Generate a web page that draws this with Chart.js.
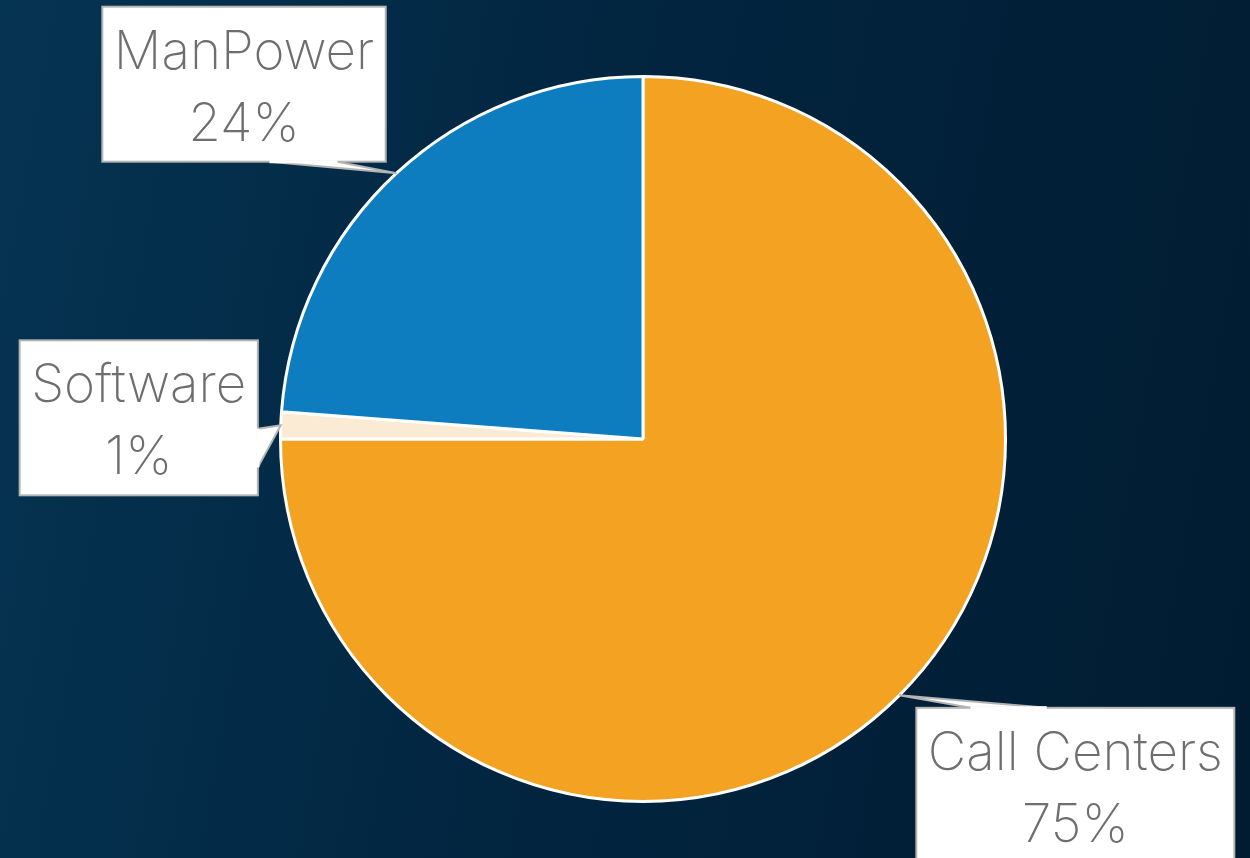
<!DOCTYPE html>
<html>
<head>
<meta charset="utf-8">
<script src="https://cdn.jsdelivr.net/npm/chart.js@4/dist/chart.umd.min.js"></script>
<style>
  html, body { margin: 0; padding: 0; }
  body {
    width: 1250px; height: 858px; overflow: hidden;
    background: linear-gradient(100deg, #053452 0%, #022540 45%, #011c31 100%);
  }
  #wrap { position: relative; width: 1250px; height: 858px; }
</style>
</head>
<body>
<div id="wrap"><canvas id="chart"></canvas></div>
<script>
// Spend breakdown by channel
const categories = ['Call Centers', 'Software', 'ManPower'];
const shares = [75, 1.2, 23.8];
const sliceColors = ['#F4A221', '#FCEBD4', '#0E7DC0'];

// Callout boxes: centre offset from the slice's outer mid-point, and the side
// of the box that the pointer leaves from (with its span along that side).
const calloutLayout = [
  { dx: 176, dy: 90, side: 'top', from: 0.17, to: 0.41 },
  { dx: -142, dy: -7.5, side: 'right', from: 0.57, to: 0.82 },
  { dx: -152.5, dy: -89, side: 'bottom', from: 0.59, to: 0.83 }
];

const FONT = '150 53px Inter, "Open Sans", sans-serif';

const calloutPlugin = {
  id: 'callouts',
  afterDatasetsDraw(chart) {
    const ctx = chart.ctx;
    const meta = chart.getDatasetMeta(0);
    const data = chart.data.datasets[0].data;
    const total = data.reduce((a, b) => a + b, 0);
    ctx.save();
    ctx.font = FONT;
    meta.data.forEach((arc, i) => {
      const p = arc.getProps(['x', 'y', 'startAngle', 'endAngle', 'outerRadius'], true);
      const mid = (p.startAngle + p.endAngle) / 2;
      const ax = p.x + Math.cos(mid) * p.outerRadius;
      const ay = p.y + Math.sin(mid) * p.outerRadius;
      const lay = calloutLayout[i];
      const line1 = chart.data.labels[i];
      const line2 = Math.round(data[i] / total * 100) + '%';
      const tw = Math.max(ctx.measureText(line1).width, ctx.measureText(line2).width);
      const w = tw + 23;
      const h = 155;
      const left = ax + lay.dx - w / 2;
      const top = ay + lay.dy - h / 2;

      // pointer base on the chosen side
      let b1, b2;
      if (lay.side === 'top') {
        b1 = [left + w * lay.from, top]; b2 = [left + w * lay.to, top];
      } else if (lay.side === 'bottom') {
        b1 = [left + w * lay.from, top + h]; b2 = [left + w * lay.to, top + h];
      } else if (lay.side === 'right') {
        b1 = [left + w, top + h * lay.from]; b2 = [left + w, top + h * lay.to];
      } else {
        b1 = [left, top + h * lay.from]; b2 = [left, top + h * lay.to];
      }
      ctx.beginPath();
      ctx.moveTo(b1[0], b1[1]);
      ctx.lineTo(ax, ay);
      ctx.lineTo(b2[0], b2[1]);
      ctx.closePath();
      ctx.fillStyle = '#ffffff';
      ctx.fill();
      ctx.strokeStyle = '#b4b4b4';
      ctx.lineWidth = 2;
      ctx.stroke();

      ctx.fillStyle = '#ffffff';
      ctx.fillRect(left, top, w, h);
      ctx.strokeRect(left, top, w, h);
      // cover the seam where the pointer meets the box
      ctx.beginPath();
      ctx.moveTo(b1[0], b1[1]);
      ctx.lineTo(b2[0], b2[1]);
      ctx.strokeStyle = '#ffffff';
      ctx.lineWidth = 3;
      ctx.stroke();

      ctx.fillStyle = '#6e6e6e';
      ctx.textAlign = 'center';
      ctx.textBaseline = 'alphabetic';
      ctx.fillText(line1, left + w / 2, top + 62);
      ctx.fillText(line2, left + w / 2, top + 134);
    });
    ctx.restore();
  }
};

new Chart(document.getElementById('chart'), {
  type: 'pie',
  data: {
    labels: categories,
    datasets: [{
      data: shares,
      backgroundColor: sliceColors,
      borderColor: '#ffffff',
      borderWidth: 3
    }]
  },
  options: {
    responsive: true,
    maintainAspectRatio: false,
    animation: false,
    layout: { padding: { top: 75, bottom: 55, left: 36, right: 0 } },
    plugins: {
      legend: { display: false },
      tooltip: { enabled: false }
    }
  },
  plugins: [calloutPlugin]
});
</script>
</body>
</html>
